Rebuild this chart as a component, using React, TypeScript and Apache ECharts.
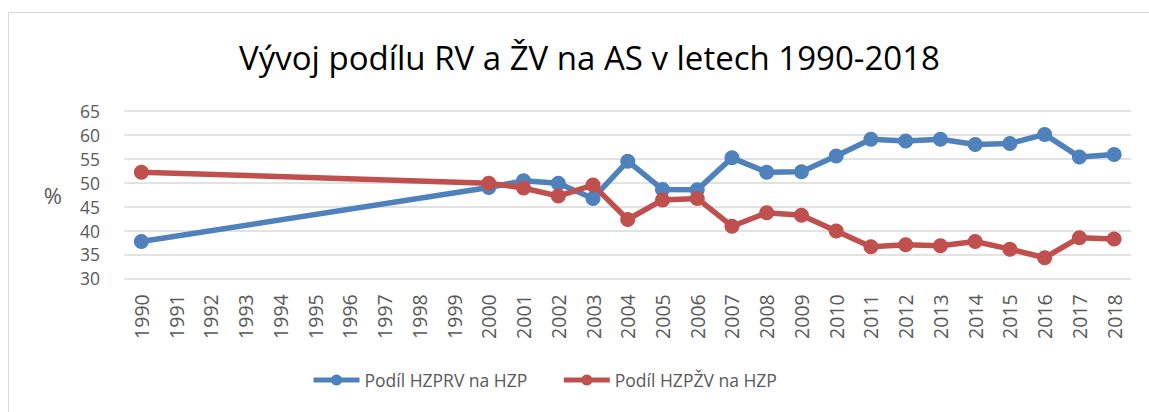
import React, { useEffect, useRef } from "react";
import * as echarts from "echarts";

const years = [
  "1990", "1991", "1992", "1993", "1994", "1995", "1996", "1997", "1998", "1999",
  "2000", "2001", "2002", "2003", "2004", "2005", "2006", "2007", "2008", "2009",
  "2010", "2011", "2012", "2013", "2014", "2015", "2016", "2017", "2018",
];
const rvShare: (number | null)[] = [
  37.7, null, null, null, null, null, null, null, null, null,
  49.0, 50.4, 49.9, 46.7, 54.5, 48.6, 48.5, 55.2, 52.2, 52.3,
  55.6, 59.1, 58.7, 59.1, 58.0, 58.2, 60.1, 55.4, 55.9,
];
const zvShare: (number | null)[] = [
  52.2, null, null, null, null, null, null, null, null, null,
  49.9, 48.9, 47.2, 49.5, 42.3, 46.4, 46.7, 40.9, 43.7, 43.2,
  39.9, 36.6, 37.0, 36.8, 37.7, 36.1, 34.3, 38.5, 38.2,
];
const seriesNames = ["Podíl HZPRV na HZP", "Podíl HZPŽV na HZP"];
const titleText = "Vývoj podílu RV a ŽV na AS v letech 1990-2018";

export default function App() {
  const ref = useRef<HTMLDivElement>(null);
  useEffect(() => {
    if (!ref.current) return;
    const chart = echarts.init(ref.current, null, { renderer: "svg" });
    const font = "'Open Sans', 'Noto Sans', sans-serif";
    chart.setOption({
      animation: false,
      backgroundColor: "#ffffff",
      graphic: [
        {
          type: "rect",
          shape: { x: 8.5, y: 12.5, width: 1160, height: 420 },
          style: { fill: "none", stroke: "#d9d9d9", lineWidth: 1 },
          silent: true,
        },
      ],
      title: {
        text: titleText,
        left: 234,
        top: 36,
        textStyle: {
          fontFamily: font,
          fontSize: 33,
          fontWeight: "normal",
          color: "#000000",
        },
      },
      legend: {
        bottom: 18,
        left: 306,
        itemWidth: 46,
        itemHeight: 14,
        itemGap: 34,
        lineStyle: { width: 5 },
        textStyle: { fontFamily: font, fontSize: 17.5, color: "#595959" },
        data: seriesNames,
      },
      grid: { left: 124, right: 17.5, top: 111, bottom: 133.7, containLabel: false },
      xAxis: {
        type: "category",
        data: years,
        boundaryGap: true,
        axisLine: { show: false },
        axisTick: { show: false },
        axisLabel: {
          rotate: 90,
          margin: 16,
          fontFamily: font,
          fontSize: 19.5,
          color: "#595959",
        },
      },
      yAxis: {
        type: "value",
        min: 30,
        max: 65,
        interval: 5,
        name: "%",
        nameLocation: "middle",
        nameRotate: 0,
        nameGap: 62,
        nameTextStyle: { fontFamily: font, fontSize: 22, color: "#595959" },
        axisLine: { show: false },
        axisTick: { show: false },
        axisLabel: {
          margin: 24,
          fontFamily: font,
          fontSize: 17.5,
          lineHeight: 18,
          color: "#595959",
        },
        splitLine: { lineStyle: { color: "#d9d9d9", width: 1.5 } },
      },
      series: [
        {
          name: seriesNames[0],
          type: "line",
          data: rvShare,
          connectNulls: true,
          symbol: "circle",
          symbolSize: 15,
          itemStyle: { color: "#4f81bd" },
          lineStyle: { color: "#4f81bd", width: 5.5 },
        },
        {
          name: seriesNames[1],
          type: "line",
          data: zvShare,
          connectNulls: true,
          symbol: "circle",
          symbolSize: 15,
          itemStyle: { color: "#c0504d" },
          lineStyle: { color: "#c0504d", width: 5.5 },
        },
      ],
    });
    return () => chart.dispose();
  }, []);
  return <div ref={ref} style={{ width: 1149, height: 412, position: "absolute", left: 0, top: 0 }} />;
}
